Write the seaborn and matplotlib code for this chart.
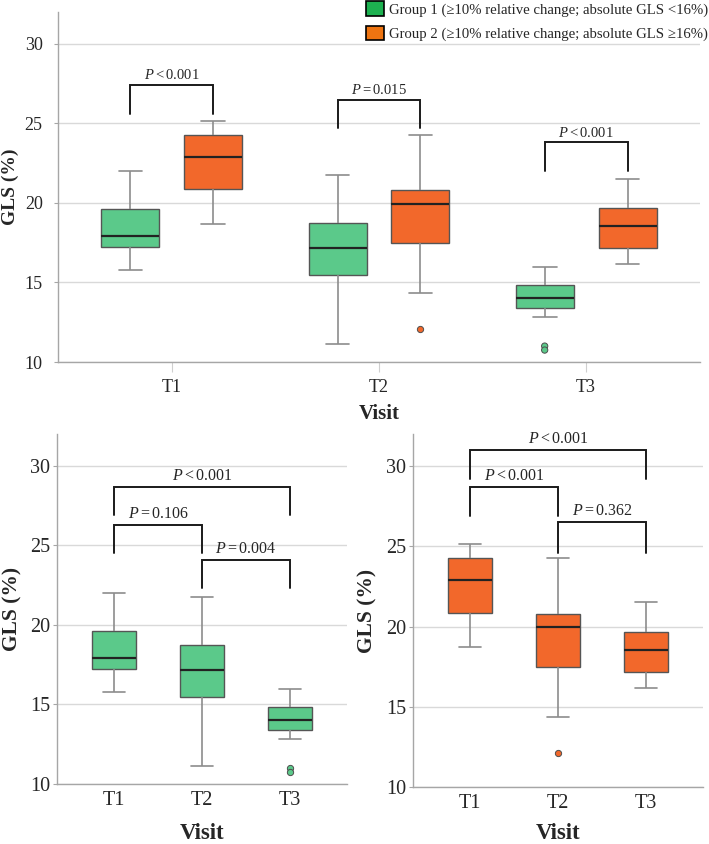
import numpy as np
import pandas as pd
import matplotlib
matplotlib.use("Agg")
import matplotlib.pyplot as plt
import seaborn as sns
from matplotlib.patches import Patch

sns.set_style("white")
plt.rcParams['font.family'] = ['Liberation Serif', 'DejaVu Serif']
plt.rcParams['mathtext.fontset'] = 'custom'
plt.rcParams['mathtext.rm'] = 'Liberation Serif'
plt.rcParams['mathtext.it'] = 'Liberation Serif:italic'

# box summaries (GLS, %)
visits = ["T1", "T2", "T3"]
groups = ["Group 1", "Group 2"]
g1_lo = [15.8, 11.15, 12.85]
g1_q1 = [17.25, 15.5, 13.4]
g1_med = [17.9, 17.15, 14.05]
g1_q3 = [19.6, 18.75, 14.85]
g1_hi = [22.0, 21.75, 15.95]
g2_lo = [18.7, 14.35, 16.15]
g2_q1 = [20.85, 17.45, 17.15]
g2_med = [22.9, 19.95, 18.55]
g2_q3 = [24.25, 20.8, 19.65]
g2_hi = [25.15, 24.25, 21.5]
flier_visit = ["T3", "T3", "T2"]
flier_group = ["Group 1", "Group 1", "Group 2"]
flier_gls = [11.0, 10.75, 12.1]

legend_labels = ["Group 1 (\u226510% relative change; absolute GLS <16%)",
                 "Group 2 (\u226510% relative change; absolute GLS \u226516%)"]

# significance brackets: (left, right, top, leg bottom, label)
top_brackets = [(-0.2, 0.2, 27.4, 25.6, r"$P<$0.001"),
                (0.8, 1.2, 26.5, 24.7, r"$P=$0.015"),
                (1.8, 2.2, 23.8, 22.0, r"$P<$0.001")]
g1_brackets = [(0, 2, 28.7, 26.9, r"$P<$0.001"),
               (0, 1, 26.3, 24.55, r"$P=$0.106"),
               (1, 2, 24.1, 22.3, r"$P=$0.004")]
g2_brackets = [(0, 2, 31.0, 29.2, r"$P<$0.001"),
               (0, 1, 28.7, 26.9, r"$P<$0.001"),
               (1, 2, 26.5, 24.6, r"$P=$0.362")]

box_colors = {"Group 1": "#5BC98A", "Group 2": "#F2682B"}
legend_colors = ["#1DB150", "#EE7411"]

rows = []
for g, stats in (("Group 1", (g1_lo, g1_q1, g1_med, g1_q3, g1_hi)),
                 ("Group 2", (g2_lo, g2_q1, g2_med, g2_q3, g2_hi))):
    for i, v in enumerate(visits):
        for s in stats:
            rows.append({"visit": v, "group": g, "gls": s[i]})
df = pd.DataFrame(rows)
fliers = pd.DataFrame({"visit": flier_visit, "group": flier_group, "gls": flier_gls})

box_kws = dict(whis=(0, 100), showfliers=False, saturation=1, linewidth=1,
               linecolor="#555555",
               whiskerprops={"color": "#8c8c8c", "linewidth": 1.2},
               capprops={"color": "#8c8c8c", "linewidth": 1.2},
               medianprops={"color": "#222222", "linewidth": 1.6})


def style_axes(ax, tick_size, label_size, xlab_y, ylab_x, xtick_len, ytick_pad):
    ax.set_ylim(10, 32)
    ax.set_yticks([10, 15, 20, 25, 30])
    ax.yaxis.grid(True, color="#d9d9d9", linewidth=1)
    ax.xaxis.grid(False)
    ax.set_axisbelow(True)
    for side in ["top", "right"]:
        ax.spines[side].set_visible(False)
    for side in ["left", "bottom"]:
        ax.spines[side].set_color("#a6a6a6")
        ax.spines[side].set_linewidth(1)
    ax.tick_params(axis="y", left=True, length=3, width=0.8, color="#a6a6a6",
                   labelsize=tick_size, pad=ytick_pad)
    ax.tick_params(axis="x", bottom=xtick_len > 0, length=xtick_len, width=0.8,
                   color="#cfcfcf", labelsize=tick_size, pad=5)
    ax.set_xlabel("Visit", fontsize=label_size + 1, fontweight="bold")
    ax.set_ylabel("GLS (%)", fontsize=label_size, fontweight="bold")
    ax.xaxis.set_label_coords(0.5, xlab_y)
    ax.yaxis.set_label_coords(ylab_x, 0.5)


def brackets(ax, items, fsize):
    for x0, x1, ytop, ybot, label in items:
        ax.plot([x0, x0, x1, x1], [ybot, ytop, ytop, ybot], color="#1a1a1a",
                linewidth=1.4, solid_joinstyle="miter")
        ax.annotate(label, xy=((x0 + x1) / 2, ytop), xytext=(0, 2),
                    textcoords="offset points", ha="center", va="bottom",
                    fontsize=fsize)


fig = plt.figure(figsize=(7.09, 8.44), dpi=100)
ax_top = fig.add_axes([58 / 709, 1 - 362 / 844, 642 / 709, 350 / 844])
ax_g1 = fig.add_axes([57 / 709, 1 - 784 / 844, 290 / 709, 350 / 844])
ax_g2 = fig.add_axes([413 / 709, 1 - 787 / 844, 290 / 709, 353 / 844])

sns.boxplot(data=df, x="visit", y="gls", hue="group", order=visits,
            hue_order=groups, palette=box_colors, width=0.8, gap=0.3,
            capwidths=0.115, legend=False, ax=ax_top, **box_kws)
sns.stripplot(data=fliers, x="visit", y="gls", hue="group", order=visits,
              hue_order=groups, palette=box_colors, dodge=True, jitter=False,
              size=4.5, linewidth=0.7, edgecolor="#4d4d4d", legend=False, ax=ax_top)
ax_top.set_xlim(-0.55, 2.55)
style_axes(ax_top, 13, 14, -0.12, -0.06, 7, 8)
brackets(ax_top, top_brackets, 10.5)

for ax, g, items, lab in ((ax_g1, "Group 1", g1_brackets, (-0.112, -0.12)),
                          (ax_g2, "Group 2", g2_brackets, (-0.102, -0.124))):
    sns.boxplot(data=df[df.group == g], x="visit", y="gls", order=visits,
                color=box_colors[g], width=0.5, ax=ax, **box_kws)
    sns.stripplot(data=fliers[fliers.group == g], x="visit", y="gls", order=visits,
                  color=box_colors[g], jitter=False, size=4.5, linewidth=0.7,
                  edgecolor="#4d4d4d", ax=ax)
    ax.set_xlim(-0.65, 2.65)
    style_axes(ax, 14.5, 15.5, lab[0], lab[1], 0, 2)
    brackets(ax, items, 11.5)

handles = [Patch(facecolor=c, edgecolor="black", linewidth=1.2) for c in legend_colors]
fig.legend(handles, legend_labels, loc="upper left", bbox_to_anchor=(365 / 709, 1.0),
           frameon=False, fontsize=10.6, handlelength=1.2, handleheight=1.15,
           handletextpad=0.3, labelspacing=0.6, borderpad=0.1, borderaxespad=0)

fig.savefig("out.png", dpi=100, facecolor="white")
